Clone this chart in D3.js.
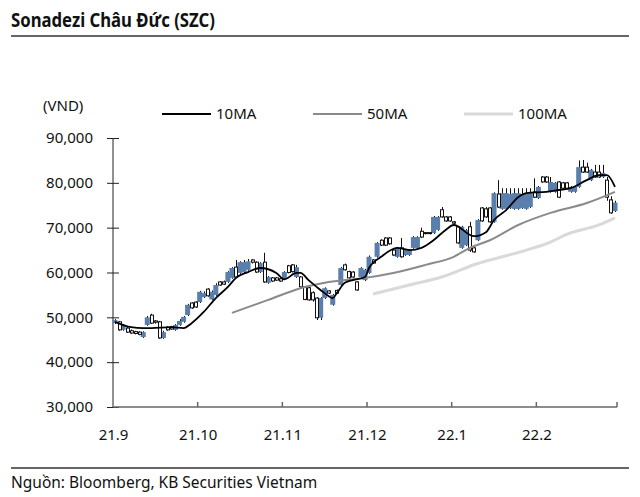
<!DOCTYPE html>
<html><head><meta charset="utf-8">
<script src="https://cdn.jsdelivr.net/npm/d3@7"></script>
<style>body{margin:0;background:#fff;} svg{display:block;font-family:"Noto Sans",sans-serif;}</style>
</head><body><svg id="c" width="640" height="497"></svg>
<script>
const titleText = "Sonadezi Châu Đức (SZC)";
const sourceText = "Nguồn: Bloomberg, KB Securities Vietnam";
const unitText = "(VND)";
const monthLabels = ["21.9","21.10","21.11","21.12","22.1","22.2"];
const monthStartDay = [0,21,42,63,84,105];
const dayCount = 125;
const yTicks = [30000,40000,50000,60000,70000,80000,90000];
const legendNames = ["10MA","50MA","100MA"];

// daily prices (thousand VND)
const openP = [48.7,49.0,47.2,47.6,47.0,46.8,46.7,45.6,48.3,50.5,49.2,49.0,45.4,47.8,47.9,47.2,48.3,49.0,50.5,53.2,
53.4,53.4,54.5,56.3,54.0,55.0,57.9,57.9,57.9,58.8,61.2,59.9,60.1,60.6,62.8,62.3,60.1,62.3,57.7,58.8,
58.8,58.6,58.5,61.5,61.7,59.0,59.0,56.8,56.6,55.5,54.3,49.9,54.3,55.9,52.8,56.0,57.2,61.7,60.2,60.1,
57.9,59.0,58.3,59.9,62.8,63.5,67.2,67.7,67.7,65.0,63.5,65.5,63.9,63.9,65.5,65.5,69.2,68.9,68.9,68.8,
69.5,74.0,72.4,72.4,71.3,70.2,65.5,66.1,70.2,65.5,67.2,74.4,74.2,74.4,71.3,77.5,74.2,74.2,74.4,74.2,
74.2,74.4,74.2,74.6,78.0,76.6,81.3,81.3,78.0,78.0,80.2,80.0,80.0,78.0,78.0,79.1,83.5,83.5,80.6,82.4,
82.4,81.3,80.6,76.2,73.7];
const closeP = [49.4,47.2,48.3,46.7,46.5,46.4,46.2,46.7,50.0,48.7,48.9,45.4,46.7,47.2,47.4,48.3,49.2,50.1,52.8,52.1,
52.3,55.7,55.4,54.8,55.7,57.2,57.2,57.4,60.1,61.0,59.0,62.3,62.3,62.5,62.3,60.1,62.1,57.9,59.0,58.1,
58.3,58.1,60.1,60.0,60.2,61.2,56.8,54.0,53.9,53.9,49.9,54.3,56.5,55.4,55.0,55.4,61.0,60.6,58.8,59.0,
56.1,61.0,60.6,63.5,62.1,66.6,66.1,66.1,66.4,63.9,65.5,63.5,65.0,65.0,67.9,67.9,67.9,68.7,68.7,72.4,
72.4,72.4,71.5,71.5,71.0,66.6,70.2,69.5,65.0,64.6,71.7,71.5,72.4,71.3,77.7,74.6,77.7,77.7,77.5,77.7,
77.7,77.5,77.7,77.7,76.8,79.1,80.2,80.2,80.2,80.0,76.8,78.8,78.8,79.1,79.1,83.5,82.4,82.4,82.9,81.3,
81.3,82.2,76.8,73.3,75.6];
const highP = [49.6,49.2,48.5,47.9,47.3,47.0,46.9,46.9,50.3,50.8,49.4,49.2,47.0,48.0,48.1,48.5,49.6,50.3,53.0,53.4,
53.6,55.9,55.8,56.5,56.0,57.6,58.1,58.2,60.3,61.2,62.8,62.5,62.8,63.0,63.0,62.5,62.3,64.4,59.2,59.0,
59.0,58.8,60.3,61.7,61.9,61.7,59.2,57.0,56.8,55.8,54.5,54.5,56.7,56.1,55.2,56.2,61.2,62.0,60.4,60.3,
58.1,61.2,60.8,63.8,63.0,66.8,67.4,67.9,67.9,65.2,65.7,67.7,65.2,65.2,68.1,68.1,70.0,69.0,69.0,72.6,
72.6,74.6,72.6,72.6,71.5,70.4,70.4,69.7,71.3,65.7,71.9,74.6,74.6,74.6,77.9,80.6,78.8,78.8,78.8,78.8,
78.8,78.8,78.8,78.8,81.0,79.3,81.5,81.5,81.3,80.2,80.4,80.2,80.2,79.3,79.3,85.0,85.1,84.5,83.1,84.0,
84.0,84.0,81.3,77.0,76.0];
const lowP = [48.5,47.0,47.0,46.5,46.3,46.2,46.0,45.4,48.1,48.5,48.6,45.2,45.2,47.0,47.2,47.0,48.1,48.8,50.3,51.9,
52.1,53.2,54.3,54.6,53.8,54.8,57.0,57.2,57.7,58.6,58.8,59.7,59.9,60.4,62.0,59.9,59.9,57.7,57.5,57.9,
58.1,57.9,58.3,59.8,60.0,58.8,56.6,53.8,53.7,53.5,49.4,49.4,54.1,55.2,52.6,55.2,57.0,60.4,58.6,58.8,
55.9,58.8,58.1,59.7,61.9,63.3,65.9,65.9,66.2,63.7,63.3,63.3,63.7,63.7,65.3,65.3,67.7,68.5,68.5,68.6,
69.3,72.2,71.3,71.3,70.8,66.4,65.3,65.9,64.6,64.4,67.0,71.3,72.2,71.1,71.1,74.4,74.0,74.0,74.2,74.0,
74.0,74.2,74.0,74.4,76.6,76.4,80.0,80.0,77.8,77.8,76.6,78.6,78.6,77.8,77.8,78.9,82.2,82.2,80.4,81.1,
81.1,81.1,76.0,73.1,73.5];

// moving averages (day index, thousand VND)
const ma10Day = [0,4,7,9,14,17,19,22,25,28,30,33,36,40,42,45,46,48,50,52,54,55,57,59,62,63,66,70,73,76,79,82,84,89,92,94,97,100,102,107,110,113,117,120,122,124];
const ma10Val = [49.0,47.8,47.6,47.6,47.8,47.6,48.7,51.2,54.3,56.8,58.8,60.1,61.0,59.9,58.5,59.9,59.9,58.3,56.8,55.4,54.3,55.4,57.7,58.3,59.0,61.0,63.5,65.5,65.0,65.5,67.2,69.5,70.6,68.1,69.0,71.7,73.9,76.8,77.7,78.0,78.4,78.8,80.6,81.7,81.7,79.1];
const ma50Day = [29,38,46,53,62,69,77,84,88,93,100,108,117,124];
const ma50Val = [51.0,53.9,56.5,57.9,58.8,59.9,61.7,63.5,65.5,67.2,70.6,73.3,75.5,78.0];
const ma100Day = [64,73,81,90,96,102,108,112,120,124];
const ma100Val = [55.2,57.2,59.0,62.0,63.5,65.0,66.8,68.5,70.6,72.2];

const svg = d3.select("#c");
const X0 = 113, X1 = 617, Y0 = 407, Y1 = 138;
const x = d3.scaleLinear().domain([0, dayCount]).range([X0, X1]);
const y = d3.scaleLinear().domain([30, 90]).range([Y0, Y1]);
const bw = x(1) - x(0);
const cx = i => x(i + 0.5);

// title & frame lines
svg.append("text").attr("x", 11).attr("y", 27).attr("font-size", 20).attr("font-weight", "bold").attr("fill", "#111")
  .attr("textLength", 204).attr("lengthAdjust", "spacingAndGlyphs").text(titleText);
svg.append("line").attr("x1", 11).attr("x2", 629).attr("y1", 36).attr("y2", 36).attr("stroke", "#666").attr("stroke-width", 2);
svg.append("line").attr("x1", 11).attr("x2", 629).attr("y1", 468).attr("y2", 468).attr("stroke", "#666").attr("stroke-width", 2);
svg.append("text").attr("x", 11).attr("y", 488).attr("font-size", 15.5).attr("fill", "#111").text(sourceText);

// unit & legend
svg.append("text").attr("x", 43).attr("y", 111).attr("font-size", 15).attr("fill", "#111").text(unitText);
const legColors = ["#000", "#8a8a8a", "#d9d9d9"];
const legWidths = [2, 2, 3];
const legX = [162, 313, 464];
legendNames.forEach((n, k) => {
  svg.append("line").attr("x1", legX[k]).attr("x2", legX[k] + 49).attr("y1", 114).attr("y2", 114)
    .attr("stroke", legColors[k]).attr("stroke-width", legWidths[k]);
  svg.append("text").attr("x", legX[k] + 54).attr("y", 119).attr("font-size", 15).attr("fill", "#111").text(n);
});

// y axis
const yAxis = d3.axisLeft(y).tickValues(yTicks.map(v => v / 1000)).tickSize(0).tickFormat(v => d3.format(",")(Math.round(v * 1000)));
const gy = svg.append("g").attr("transform", `translate(${X0},0)`).call(yAxis);
gy.select(".domain").remove();
gy.selectAll("text").attr("x", -20).attr("font-size", 15).attr("font-family", "Noto Sans").attr("fill", "#111");
gy.selectAll(".tick").append("line").attr("x1", -6).attr("x2", 6).attr("stroke", "#222");
svg.append("line").attr("x1", X0).attr("x2", X0).attr("y1", Y1).attr("y2", Y0).attr("stroke", "#222");

// x axis
const xAxis = d3.axisBottom(x).tickValues(monthStartDay).tickSize(0).tickFormat((d, k) => monthLabels[k]);
const gx = svg.append("g").attr("transform", `translate(0,${Y0})`).call(xAxis);
gx.select(".domain").remove();
gx.selectAll("text").attr("y", 22).attr("font-size", 15).attr("font-family", "Noto Sans").attr("fill", "#111");
svg.append("line").attr("x1", X0).attr("x2", X1).attr("y1", Y0).attr("y2", Y0).attr("stroke", "#666").attr("stroke-width", 1.5);
svg.selectAll(".xt").data(monthStartDay.slice(1).concat([dayCount])).enter().append("line")
  .attr("x1", d => x(d)).attr("x2", d => x(d)).attr("y1", Y0).attr("y2", Y0 - 5).attr("stroke", "#666").attr("stroke-width", 1.5);

// candles
const days = d3.range(dayCount);
const up = days.filter(i => closeP[i] >= openP[i]);
const down = days.filter(i => closeP[i] < openP[i]);
const blue = "#5b7fad";
svg.append("g").selectAll("line").data(days).enter().append("line")
  .attr("x1", i => Math.round(cx(i)) + 0.5).attr("x2", i => Math.round(cx(i)) + 0.5)
  .attr("y1", i => y(highP[i])).attr("y2", i => y(lowP[i]))
  .attr("stroke", "#111").attr("stroke-width", 1);
svg.append("g").selectAll("rect").data(up).enter().append("rect")
  .attr("x", i => cx(i) - bw / 2 - 0.5).attr("width", bw + 1)
  .attr("y", i => y(closeP[i])).attr("height", i => Math.max(1, y(openP[i]) - y(closeP[i])))
  .attr("fill", blue);
svg.append("g").selectAll("rect").data(down).enter().append("rect")
  .attr("x", i => Math.round(cx(i) - 1.5) + 0.5).attr("width", 3)
  .attr("y", i => y(openP[i])).attr("height", i => Math.max(1, y(closeP[i]) - y(openP[i])))
  .attr("fill", "#fff").attr("stroke", "#111").attr("stroke-width", 1);

// moving averages
const lineGen = (dayArr, valArr) => d3.line().x((d, k) => cx(dayArr[k])).y((d, k) => y(valArr[k])).curve(d3.curveMonotoneX)(valArr);
svg.append("path").attr("d", lineGen(ma100Day, ma100Val)).attr("fill", "none").attr("stroke", "#d9d9d9").attr("stroke-width", 3);
svg.append("path").attr("d", lineGen(ma50Day, ma50Val)).attr("fill", "none").attr("stroke", "#8a8a8a").attr("stroke-width", 2);
svg.append("path").attr("d", lineGen(ma10Day, ma10Val)).attr("fill", "none").attr("stroke", "#000").attr("stroke-width", 1.8);
</script></body></html>
